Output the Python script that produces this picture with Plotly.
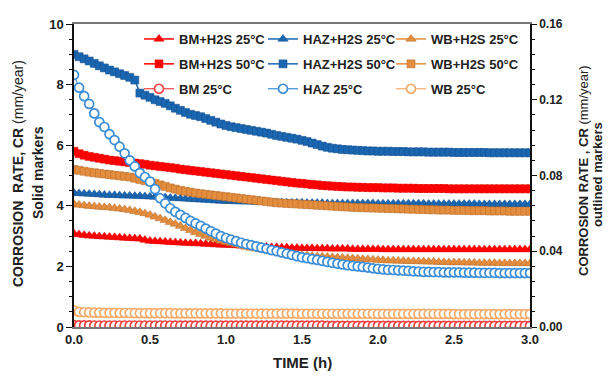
import plotly.graph_objects as go

# time axis (h), sampled every 2 minutes
time_h = [k / 30 for k in range(91)]

bm_h2s_25 = [3.08, 3.05, 3.03, 3.01, 3.00, 2.99, 2.98, 2.97, 2.96, 2.95,
             2.94, 2.93, 2.92, 2.91, 2.87, 2.84, 2.83, 2.82, 2.81, 2.80,
             2.79, 2.78, 2.77, 2.76, 2.76, 2.75, 2.74, 2.73, 2.72, 2.71,
             2.71, 2.70, 2.69, 2.68, 2.67, 2.66, 2.66, 2.65, 2.64, 2.63,
             2.63, 2.62, 2.62, 2.61, 2.61, 2.60, 2.60, 2.60, 2.59, 2.59,
             2.59, 2.58, 2.58, 2.58, 2.58, 2.57, 2.57, 2.57, 2.57, 2.57,
             2.57, 2.56, 2.56, 2.56, 2.56, 2.56, 2.56, 2.56, 2.56, 2.56,
             2.56, 2.56, 2.56, 2.56, 2.56, 2.56, 2.56, 2.56, 2.56, 2.56,
             2.56, 2.56, 2.56, 2.56, 2.56, 2.56, 2.56, 2.56, 2.56, 2.56, 2.56]

bm_h2s_50 = [5.80, 5.72, 5.67, 5.63, 5.60, 5.57, 5.54, 5.51, 5.49, 5.47,
             5.45, 5.43, 5.41, 5.39, 5.37, 5.34, 5.32, 5.30, 5.28, 5.26,
             5.24, 5.21, 5.19, 5.17, 5.15, 5.13, 5.11, 5.09, 5.07, 5.05,
             5.03, 5.01, 4.99, 4.97, 4.95, 4.93, 4.91, 4.89, 4.87, 4.85,
             4.83, 4.81, 4.79, 4.77, 4.75, 4.74, 4.72, 4.70, 4.69, 4.67,
             4.66, 4.65, 4.64, 4.63, 4.62, 4.62, 4.61, 4.61, 4.60, 4.60,
             4.60, 4.59, 4.59, 4.59, 4.58, 4.58, 4.58, 4.58, 4.57, 4.57,
             4.57, 4.57, 4.57, 4.57, 4.56, 4.56, 4.56, 4.56, 4.56, 4.56,
             4.56, 4.56, 4.56, 4.56, 4.56, 4.56, 4.56, 4.56, 4.56, 4.56, 4.56]

haz_h2s_25 = [4.42, 4.41, 4.40, 4.39, 4.38, 4.37, 4.36, 4.35, 4.35, 4.34,
              4.33, 4.33, 4.32, 4.32, 4.31, 4.30, 4.29, 4.28, 4.27, 4.26,
              4.25, 4.24, 4.23, 4.22, 4.21, 4.20, 4.19, 4.18, 4.17, 4.16,
              4.15, 4.15, 4.14, 4.14, 4.13, 4.13, 4.12, 4.12, 4.12, 4.11,
              4.11, 4.11, 4.10, 4.10, 4.10, 4.10, 4.09, 4.09, 4.09, 4.09,
              4.08, 4.08, 4.08, 4.08, 4.08, 4.08, 4.08, 4.08, 4.08, 4.08,
              4.07, 4.07, 4.07, 4.07, 4.07, 4.07, 4.07, 4.07, 4.07, 4.07,
              4.06, 4.06, 4.06, 4.06, 4.06, 4.06, 4.06, 4.06, 4.06, 4.06,
              4.05, 4.05, 4.05, 4.05, 4.05, 4.05, 4.05, 4.05, 4.05, 4.05, 4.05]

haz_h2s_50 = [9.00, 8.92, 8.85, 8.78, 8.70, 8.62, 8.55, 8.48, 8.42, 8.36,
              8.30, 8.24, 8.15, 7.72, 7.65, 7.58, 7.50, 7.44, 7.38, 7.30,
              7.22, 7.15, 7.08, 7.02, 6.98, 6.94, 6.88, 6.82, 6.76, 6.70,
              6.65, 6.61, 6.58, 6.55, 6.52, 6.49, 6.46, 6.43, 6.40, 6.36,
              6.32, 6.29, 6.26, 6.23, 6.20, 6.16, 6.12, 6.07, 6.02, 5.97,
              5.93, 5.90, 5.88, 5.86, 5.85, 5.84, 5.83, 5.82, 5.81, 5.81,
              5.80, 5.80, 5.80, 5.79, 5.79, 5.79, 5.78, 5.78, 5.78, 5.78,
              5.77, 5.77, 5.77, 5.77, 5.77, 5.76, 5.76, 5.76, 5.76, 5.76,
              5.76, 5.76, 5.75, 5.75, 5.75, 5.75, 5.75, 5.75, 5.75, 5.75, 5.75]

wb_h2s_25 = [4.05, 4.03, 4.01, 3.99, 3.98, 3.96, 3.95, 3.94, 3.92, 3.90,
             3.88, 3.85, 3.82, 3.79, 3.75, 3.70, 3.64, 3.58, 3.52, 3.46,
             3.40, 3.33, 3.26, 3.19, 3.12, 3.06, 3.00, 2.94, 2.89, 2.84,
             2.80, 2.76, 2.72, 2.68, 2.64, 2.61, 2.58, 2.55, 2.52, 2.49,
             2.47, 2.45, 2.43, 2.41, 2.39, 2.37, 2.36, 2.34, 2.33, 2.32,
             2.31, 2.30, 2.29, 2.28, 2.27, 2.26, 2.25, 2.24, 2.23, 2.22,
             2.21, 2.20, 2.19, 2.19, 2.18, 2.18, 2.17, 2.17, 2.16, 2.16,
             2.15, 2.15, 2.14, 2.14, 2.13, 2.13, 2.13, 2.12, 2.12, 2.12,
             2.11, 2.11, 2.11, 2.11, 2.10, 2.10, 2.10, 2.10, 2.10, 2.10, 2.10]

wb_h2s_50 = [5.20, 5.17, 5.14, 5.11, 5.09, 5.07, 5.05, 5.03, 5.01, 4.99,
             4.97, 4.95, 4.91, 4.87, 4.83, 4.79, 4.74, 4.69, 4.64, 4.59,
             4.55, 4.51, 4.48, 4.45, 4.42, 4.40, 4.38, 4.36, 4.34, 4.32,
             4.30, 4.28, 4.26, 4.24, 4.22, 4.20, 4.18, 4.16, 4.14, 4.12,
             4.10, 4.09, 4.08, 4.07, 4.06, 4.05, 4.04, 4.03, 4.02, 4.01,
             4.00, 3.99, 3.98, 3.97, 3.96, 3.95, 3.94, 3.94, 3.93, 3.93,
             3.92, 3.92, 3.91, 3.91, 3.90, 3.90, 3.89, 3.89, 3.88, 3.88,
             3.87, 3.87, 3.86, 3.86, 3.86, 3.85, 3.85, 3.85, 3.84, 3.84,
             3.84, 3.84, 3.83, 3.83, 3.83, 3.83, 3.82, 3.82, 3.82, 3.82, 3.82]

# outlined markers (right axis, mm/year)
bm_25 = [0.0010, 0.0009, 0.0009, 0.0009, 0.0008, 0.0008, 0.0008, 0.0008, 0.0008, 0.0008,
         0.0008, 0.0008, 0.0008, 0.0008, 0.0008, 0.0008, 0.0008, 0.0008, 0.0008, 0.0008,
         0.0007, 0.0007, 0.0007, 0.0007, 0.0007, 0.0007, 0.0007, 0.0007, 0.0007, 0.0007,
         0.0007, 0.0007, 0.0007, 0.0007, 0.0007, 0.0007, 0.0007, 0.0007, 0.0007, 0.0007,
         0.0007, 0.0007, 0.0007, 0.0007, 0.0007, 0.0007, 0.0007, 0.0007, 0.0007, 0.0007,
         0.0006, 0.0006, 0.0006, 0.0006, 0.0006, 0.0006, 0.0006, 0.0006, 0.0006, 0.0006,
         0.0006, 0.0006, 0.0006, 0.0006, 0.0006, 0.0006, 0.0006, 0.0006, 0.0006, 0.0006,
         0.0006, 0.0006, 0.0006, 0.0006, 0.0006, 0.0006, 0.0006, 0.0006, 0.0006, 0.0006,
         0.0006, 0.0006, 0.0006, 0.0006, 0.0006, 0.0006, 0.0006, 0.0006, 0.0006, 0.0006, 0.0006]

haz_25 = [0.1331, 0.1264, 0.1219, 0.1178, 0.1128, 0.1082, 0.1056, 0.1018, 0.0987, 0.0952,
          0.0917, 0.0880, 0.0848, 0.0813, 0.0792, 0.0768, 0.0728, 0.0680, 0.0653, 0.0627,
          0.0608, 0.0592, 0.0576, 0.0560, 0.0547, 0.0534, 0.0520, 0.0506, 0.0493, 0.0480,
          0.0470, 0.0461, 0.0453, 0.0445, 0.0438, 0.0432, 0.0426, 0.0419, 0.0413, 0.0406,
          0.0400, 0.0394, 0.0387, 0.0381, 0.0374, 0.0368, 0.0363, 0.0358, 0.0354, 0.0349,
          0.0344, 0.0339, 0.0334, 0.0330, 0.0326, 0.0323, 0.0320, 0.0317, 0.0314, 0.0310,
          0.0307, 0.0304, 0.0302, 0.0301, 0.0299, 0.0298, 0.0296, 0.0294, 0.0293, 0.0291,
          0.0291, 0.0290, 0.0290, 0.0288, 0.0288, 0.0288, 0.0288, 0.0287, 0.0287, 0.0287,
          0.0286, 0.0286, 0.0286, 0.0286, 0.0285, 0.0285, 0.0285, 0.0285, 0.0285, 0.0285, 0.0285]

wb_25 = [0.0088, 0.0080, 0.0078, 0.0077, 0.0076, 0.0076, 0.0075, 0.0075, 0.0075, 0.0074,
         0.0074, 0.0074, 0.0073, 0.0073, 0.0073, 0.0073, 0.0073, 0.0073, 0.0073, 0.0073,
         0.0072, 0.0072, 0.0072, 0.0072, 0.0072, 0.0072, 0.0072, 0.0072, 0.0072, 0.0072,
         0.0071, 0.0071, 0.0071, 0.0071, 0.0071, 0.0071, 0.0071, 0.0071, 0.0071, 0.0071,
         0.0071, 0.0071, 0.0071, 0.0071, 0.0071, 0.0070, 0.0070, 0.0070, 0.0070, 0.0070,
         0.0070, 0.0070, 0.0070, 0.0070, 0.0070, 0.0070, 0.0070, 0.0070, 0.0070, 0.0070,
         0.0069, 0.0069, 0.0069, 0.0069, 0.0069, 0.0069, 0.0069, 0.0069, 0.0069, 0.0069,
         0.0069, 0.0069, 0.0069, 0.0069, 0.0069, 0.0068, 0.0068, 0.0068, 0.0068, 0.0068,
         0.0068, 0.0068, 0.0068, 0.0068, 0.0068, 0.0068, 0.0068, 0.0068, 0.0068, 0.0068, 0.0068]

names = ["BM+H2S 25°C", "HAZ+H2S 25°C", "WB+H2S 25°C",
         "BM+H2S 50°C", "HAZ+H2S 50°C", "WB+H2S 50°C",
         "BM 25°C", "HAZ 25°C", "WB 25°C"]

for arr in [bm_h2s_25, bm_h2s_50, haz_h2s_25, haz_h2s_50, wb_h2s_25, wb_h2s_50, bm_25, haz_25, wb_25]:
    assert len(arr) == len(time_h), len(arr)

RED = "#FF0000"
RED_E = "#E00000"
BLUE = "#1B66B1"
BLUE_E = "#124E8C"
ORANGE = "#E38D3E"
ORANGE_E = "#B86A28"
RED_O = "#F04040"
BLUE_O = "#3B8DD8"
ORANGE_O = "#F6AA6A"

FONT = "Liberation Sans, Arial, sans-serif"

fig = go.Figure()

# one legend per column: BM -> legend, HAZ -> legend2, WB -> legend3
solid = [
    (names[0], bm_h2s_25, RED, RED_E, "triangle-up", 9, "legend", "g1"),
    (names[1], haz_h2s_25, BLUE, BLUE_E, "triangle-up", 9, "legend2", "g1"),
    (names[2], wb_h2s_25, ORANGE, ORANGE_E, "triangle-up", 9, "legend3", "g1"),
    (names[3], bm_h2s_50, RED, RED_E, "square", 8, "legend", "g2"),
    (names[4], haz_h2s_50, BLUE, BLUE_E, "square", 8, "legend2", "g2"),
    (names[5], wb_h2s_50, ORANGE, ORANGE_E, "square", 8, "legend3", "g2"),
]
for nm, ys, col, edge, sym, sz, lg, grp in solid:
    fig.add_trace(go.Scatter(
        x=time_h, y=ys, name=nm, mode="lines+markers", legend=lg, legendgroup=grp,
        line=dict(color=col, width=1.5),
        marker=dict(symbol=sym, size=sz, color=col, line=dict(color=edge, width=0.5)),
        yaxis="y"))

outlined = [
    (names[6], bm_25, RED_O, "legend"),
    (names[7], haz_25, BLUE_O, "legend2"),
    (names[8], wb_25, ORANGE_O, "legend3"),
]
for nm, ys, col, lg in outlined:
    fig.add_trace(go.Scatter(
        x=time_h, y=ys, name=nm, mode="lines+markers", legend=lg, legendgroup="g3",
        line=dict(color=col, width=1.2),
        marker=dict(symbol="circle", size=9, color="white", line=dict(color=col, width=1.7)),
        yaxis="y2"))

L, R, T, B = 74, 78, 24, 49
W, H = 608, 376
pw = W - L - R
ph = H - T - B

def px(xpix):
    return (xpix - L) / pw

def py(ypix):
    return (H - B - ypix) / ph

leg_common = dict(orientation="v", xanchor="left", yanchor="top", y=py(24),
                  bgcolor="rgba(0,0,0,0)", borderwidth=0,
                  font=dict(family=FONT, size=13, color="#222", weight="bold"),
                  itemwidth=30, tracegroupgap=5, traceorder="grouped")

fig.update_layout(
    width=W, height=H,
    margin=dict(l=L, r=R, t=T, b=B, pad=0),
    paper_bgcolor="white", plot_bgcolor="white",
    font=dict(family=FONT, size=12, color="#222"),
    showlegend=True,
    legend=dict(leg_common, x=px(139)),
    legend2=dict(leg_common, x=px(263)),
    legend3=dict(leg_common, x=px(391)),
    xaxis=dict(range=[0, 3], tickvals=[0, 0.5, 1, 1.5, 2, 2.5, 3], tickformat=".1f",
               showgrid=False, zeroline=False, showline=True, linecolor="#777", linewidth=1.5,
               mirror=True, ticks="",
               tickfont=dict(family=FONT, size=13, color="#222", weight="bold")),
    yaxis=dict(range=[0, 10], tickvals=[0, 2, 4, 6, 8, 10],
               showgrid=False, zeroline=False, showline=True, linecolor="#111", linewidth=1.5,
               ticks="outside", ticklen=6, tickwidth=1.2, tickcolor="#111",
               minor=dict(dtick=0.5, ticks="outside", ticklen=3, tickcolor="#111", tickwidth=1),
               tickfont=dict(family=FONT, size=13, color="#222", weight="bold")),
    yaxis2=dict(range=[0, 0.16], tickvals=[0, 0.04, 0.08, 0.12, 0.16], tickformat=".2f",
                overlaying="y", side="right",
                showgrid=False, zeroline=False, showline=True, linecolor="#111", linewidth=1.5,
                ticks="outside", ticklen=5, tickwidth=1.2, tickcolor="#111",
                minor=dict(dtick=0.008, ticks="outside", ticklen=3, tickcolor="#111", tickwidth=1),
                tickfont=dict(family=FONT, size=12, color="#222", weight="bold")),
)

annos = [
    dict(text="<b>CORROSION  RATE, CR</b> (mm/year)", x=18, y=174, size=14, angle=-90),
    dict(text="<b>Solid markers</b>", x=38, y=173, size=14, angle=-90),
    dict(text="<b>CORROSION RATE , CR</b> (mm/year)", x=583, y=171, size=13, angle=-90),
    dict(text="<b>outlined markers</b>", x=597, y=175, size=13, angle=-90),
    dict(text="<b>TIME (h)</b>", x=302, y=362, size=15, angle=0),
]
for a in annos:
    fig.add_annotation(text=a["text"], xref="paper", yref="paper",
                       x=px(a["x"]), y=py(a["y"]),
                       xanchor="center", yanchor="middle", showarrow=False,
                       textangle=a["angle"],
                       font=dict(family=FONT, size=a["size"], color="#222"))

fig.write_html("out.html")
